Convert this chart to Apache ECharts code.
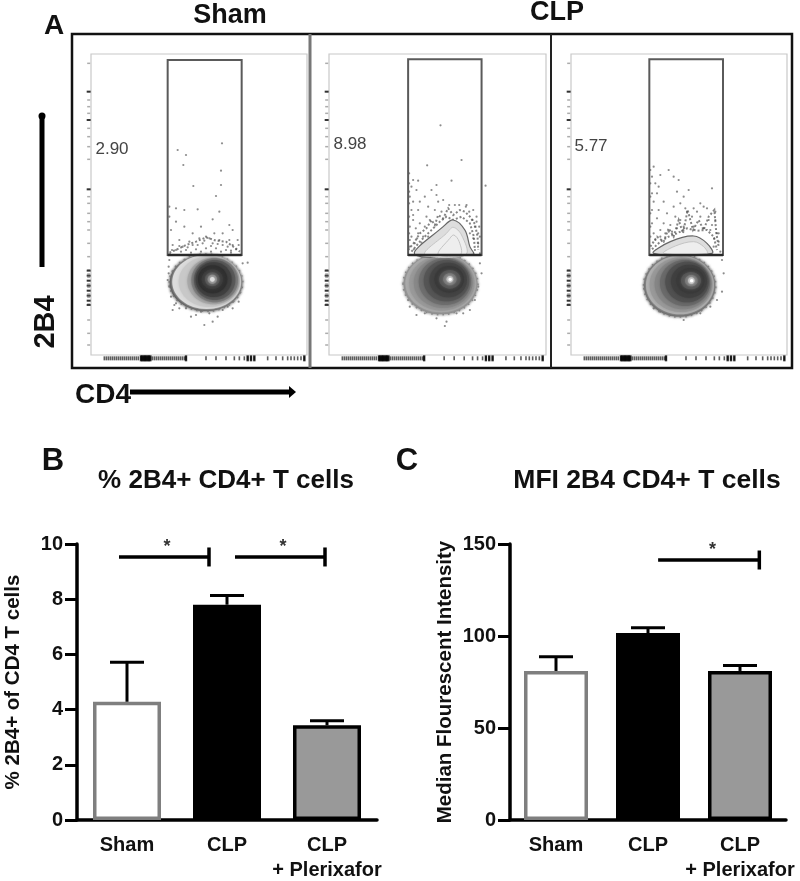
<!DOCTYPE html>
<html><head><meta charset="utf-8">
<style>html,body{margin:0;padding:0;background:#fff}#c{width:800px;height:881px;filter:blur(0.45px)}</style>
<script src="https://cdn.jsdelivr.net/npm/echarts@6/dist/echarts.min.js"></script></head>
<body><div id="c"></div>
<script>
// Bar panels
const categories = ['Sham', 'CLP', 'CLP\n+ Plerixafor'];
const pctValues = [4.28, 7.8, 3.43];
const pctErrTop = [5.72, 8.13, 3.6];
const mfiValues = [81, 101.6, 81];
const mfiErrTop = [88.7, 104.5, 84];
const barFills = ['#ffffff', '#000000', '#999999'];
const barBorders = ['#7f7f7f', '#000000', '#000000'];
// [from, to, level, star] on a 0..3 band scale
const pctBrackets = [[0.42, 1.32, 9.53, 0.9], [1.58, 2.48, 9.53, 2.06]];
const mfiBrackets = [[1.61, 2.71, 141.3, 2.2]];
// Flow panels
const gatePercents = ['2.90', '8.98', '5.77'];
// axis extents of each flow plot in channel units [xmin, xmax, ymin, ymax]
const plotExtents = [[185, 833, 162, 1065], [58, 708, 102, 1005], [782, 1430, 102, 1005]];
const gates = [[415, 180, 637, 765], [295, 118, 515, 705], [1017, 118, 1238, 705]];
// contour levels [cx, cy, rx, ry, grey]
const contoursSham = [[530,848,108,84,'#5a5a5a'],[532,846,103,81,'#dcdcdc'],[540,845,92,76,'#c8c8c8'],[552,843,78,70,'#a8a8a8'],[556,841,70,66,'#7e7e7e'],[556,840,62,60,'#5a5a5a'],[553,839,54,52,'#404040'],[550,838,44,42,'#303030'],[549,838,32,30,'#3c3c3c'],[549,838,22,21,'#555555'],[549,838,14,14,'#888888'],[549,838,7,7,'#dddddd']];
const contoursCLP = [[392,792,110,90,'#8c8c8c'],[393,790,106,87,'#aaaaaa'],[396,790,98,82,'#999999'],[400,788,88,76,'#888888'],[405,785,78,70,'#6e6e6e'],[410,782,68,62,'#555555'],[415,780,56,52,'#444444'],[418,778,44,40,'#3a3a3a'],[420,778,32,28,'#555555'],[420,778,20,18,'#777777'],[420,778,10,10,'#bbbbbb'],[421,778,5,5,'#ffffff']];
const contoursPlx = [[1108,797,106,92,'#6a6a6a'],[1109,795,102,88,'#b0b0b0'],[1112,794,94,82,'#999999'],[1118,792,85,76,'#858585'],[1124,789,75,69,'#6a6a6a'],[1130,786,65,61,'#505050'],[1136,784,54,50,'#404040'],[1140,782,42,38,'#3a3a3a'],[1142,782,30,26,'#555555'],[1143,782,19,17,'#777777'],[1143,782,10,10,'#bbbbbb'],[1144,782,5,5,'#ffffff']];
// fuzzy outlines above the gate line and light shoulders inside it
const rimSham = [[[420,758],[450,745],[470,735],[500,725],[530,712],[560,722],[590,725],[615,742],[632,755]]];
const rimCLP = [[[295,690],[315,665],[330,640],[350,625],[365,600],[375,615],[385,585],[400,595],[415,565],[430,585],[450,570],[465,575],[480,590],[495,612],[503,650],[505,690]],[[305,695],[330,665],[350,645],[370,625],[390,605],[410,590],[430,600],[455,590],[480,610],[492,650],[495,690]]];
const rimPlx = [[[1020,680],[1040,650],[1060,665],[1075,625],[1090,650],[1105,600],[1118,640],[1132,570],[1148,630],[1165,600],[1180,630],[1195,590],[1212,570],[1218,640],[1225,680]],[[1025,688],[1050,665],[1075,650],[1100,640],[1130,625],[1160,632],[1190,630],[1210,650],[1220,690]]];
const shoulderCLP = [[[315,703],[400,620],[430,600],[465,630],[480,680],[490,703]],[[345,703],[410,640],[430,622],[455,645],[468,703]],[[385,703],[420,655],[432,645],[448,665],[452,703]]];
const shoulderPlx = [[[1030,700],[1080,665],[1150,648],[1190,670],[1205,700]],[[1060,700],[1095,678],[1150,665],[1180,680],[1190,700]]];
// single events
const dotsSham = [[445,450],[470,465],[578,430],[462,495],[575,512],[492,558],[575,555],[560,588],[420,620],[440,625],[465,630],[505,628],[570,635],[550,658],[420,650],[440,665],[465,680],[515,680],[600,675],[610,690],[425,690],[490,700],[530,710],[555,700],[580,700],[450,720],[480,725],[510,715],[540,715],[570,720],[600,720],[625,720],[430,735],[460,740],[490,735],[520,730],[550,730],[580,735],[610,735],[440,750],[470,750],[500,748],[530,745],[560,745],[590,750],[620,748],[420,780],[418,820],[420,860],[425,890],[440,910],[430,930],[470,925],[485,950],[500,945],[525,975],[550,965],[540,940],[580,930],[595,920],[610,905],[625,870],[632,830],[640,790],[655,788],[455,900],[515,935],[565,950],[428,750],[450,738],[475,742],[505,735],[525,722],[545,738],[565,732],[595,740],[605,752],[628,735],[422,762],[455,755],[485,758],[515,755],[545,755],[575,755],[605,758],[418,800],[415,840],[435,915],[450,925],[610,925],[635,850],[628,905]];
const dotsCLP = [[392,316],[352,436],[455,420],[527,497],[310,480],[325,482],[305,500],[320,510],[380,495],[425,482],[365,510],[380,525],[345,530],[330,545],[310,545],[300,530],[305,570],[325,570],[355,560],[385,545],[400,540],[375,570],[350,590],[310,600],[330,610],[300,620],[305,650],[325,640],[345,620],[360,600],[470,555],[490,570],[500,590],[495,620],[505,640],[490,655],[505,670],[495,690],[480,640],[300,680],[315,670],[510,730],[515,760],[505,800],[495,840],[480,870],[300,860],[320,885],[345,880],[380,895],[410,905],[405,918],[440,880],[460,880],[295,840],[298,460],[298,490],[298,515],[298,550],[298,590],[298,640],[340,650],[355,650],[318,625],[322,655],[312,688],[335,668],[500,605],[510,650],[488,600],[510,700],[508,620],[478,575],[468,560],[448,555],[435,555],[418,555],[395,575],[310,585],[300,660]];
const dotsPlx = [[1030,440],[1050,465],[1075,450],[1090,470],[1035,490],[1045,500],[1105,480],[1025,470],[1025,520],[1040,520],[1030,545],[1060,545],[1100,515],[1135,510],[1120,530],[1205,505],[1090,560],[1110,550],[1125,565],[1025,570],[1045,570],[1070,580],[1095,590],[1040,595],[1025,610],[1060,610],[1080,615],[1110,600],[1130,575],[1170,550],[1190,565],[1215,575],[1215,600],[1195,600],[1170,590],[1220,640],[1225,665],[1210,680],[1030,640],[1050,630],[1075,635],[1120,620],[1150,620],[1180,625],[1200,630],[1235,720],[1240,760],[1235,815],[1220,840],[1030,865],[1050,875],[1080,885],[1120,900],[1170,880],[1200,860],[1020,450],[1020,490],[1020,530],[1020,580],[1020,620],[1020,650],[1035,660],[1050,650],[1065,640],[1085,635],[1100,625],[1212,655],[1230,695],[1225,640],[1205,615],[1160,575],[1145,590],[1150,565],[1180,560]];
// tick positions on the flow axes, measured from the plot's top and left
const flowYTicks = [28,113,138,158,178,198,223,248,278,316,406,428,448,478,503,528,568,608,648,660,670,680,690,700,710,720,730,740,750,798,838,873];
const flowYHeavy = [113,198,406,650,665,680,695,710,725,740,753];
const flowXTicks = [40,46,52,58,64,70,76,82,88,94,100,106,112,118,124,130,136,142,150,154,158,162,166,170,174,178,184,190,196,202,208,214,220,226,232,238,244,250,256,262,268,274,280,285,345,375,405,430,445,460,470,480,490,530,555,575,590,600,610,620,630,640];
const flowXHeavy = [150,154,158,162,166,170,174,178,285,470,480,490,640];

const F = 'Liberation Sans, Arial, sans-serif';
function ellipseSeries(i, rows, z, extra) {
  return {type:'custom', xAxisIndex:i, yAxisIndex:i, z, silent:true, clip:true, data:rows.map(r=>r.slice(0,4).concat(0)), encode:{x:0,y:1},
    renderItem(p, api){
      const r = rows[p.dataIndex], c = api.coord([r[0], r[1]]), s = api.size([r[2], r[3]]);
      return {type:'ellipse', shape:{cx:c[0], cy:c[1], rx:Math.abs(s[0]), ry:Math.abs(s[1])},
        style:Object.assign({fill:r[4], shadowBlur:3, shadowColor:r[4]}, extra||{})};
    }};
}
function polySeries(i, polys, z, style, closed) {
  return {type:'custom', xAxisIndex:i, yAxisIndex:i, z, silent:true, data:polys.map(pl=>pl[0]), encode:{x:0,y:1},
    renderItem(p, api){
      const pts = polys[p.dataIndex].map(q=>api.coord(q));
      return {type: closed?'polygon':'polyline', shape:{points:pts, smooth:closed?0.35:0}, style:Object.assign({},style)};
    }};
}
function gateSeries(i){
  const g = gates[i];
  return {type:'custom', xAxisIndex:i, yAxisIndex:i, z:8, silent:true, data:[[g[0],g[1]]], encode:{x:0,y:1},
    renderItem(p, api){
      const a = api.coord([g[0],g[1]]), b = api.coord([g[2],g[3]]);
      return {type:'group', children:[
        {type:'rect', shape:{x:a[0],y:a[1],width:b[0]-a[0],height:b[1]-a[1]}, style:{fill:'none',stroke:'#5a5a5a',lineWidth:2}},
        {type:'line', shape:{x1:a[0],y1:b[1],x2:b[0],y2:b[1]}, style:{stroke:'#2a2a2a',lineWidth:2.5}}]};
    }};
}
function flowSeries(i, contours, rims, shoulders, dots){
  const ex = plotExtents[i], out = [];
  out.push({type:'scatter', xAxisIndex:i, yAxisIndex:i, z:3, silent:true, symbolSize:2.2, itemStyle:{color:'#666',opacity:.75}, data:dots});
  out.push(ellipseSeries(i, [contours[0]], 4, {lineDash:[1.5,4], stroke:'#888', lineWidth:3}));
  out.push(ellipseSeries(i, contours, 5));
  out.push(polySeries(i, rims, 4, {fill:'none', stroke:'#444', lineWidth:2, lineDash:[2,2], opacity:.65}, false));
  if (shoulders.length) {
    out.push(polySeries(i, shoulders.slice(0,1), 6, {fill:'#dddddd', stroke:'#666', lineWidth:1.2}, true));
    out.push(polySeries(i, shoulders.slice(1), 6, {fill:'#eeeeee', stroke:'#c4c4c4', lineWidth:1}, true));
  }
  out.push(gateSeries(i));
  out.push({type:'scatter', xAxisIndex:i, yAxisIndex:i, z:2, silent:true, clip:false, symbol:'rect', symbolSize:[3,1.5], itemStyle:{color:'#999'},
    data:flowYTicks.map(t=>[ex[0]-7, ex[2]+t])});
  out.push({type:'scatter', xAxisIndex:i, yAxisIndex:i, z:2, silent:true, clip:false, symbol:'rect', symbolSize:[4,2], itemStyle:{color:'#111'},
    data:flowYHeavy.map(t=>[ex[0]-7, ex[2]+t])});
  out.push({type:'scatter', xAxisIndex:i, yAxisIndex:i, z:2, silent:true, clip:false, symbol:'rect', symbolSize:[1.6,4], itemStyle:{color:'#333'},
    data:flowXTicks.map(t=>[ex[0]+t, ex[3]+10])});
  out.push({type:'scatter', xAxisIndex:i, yAxisIndex:i, z:2, silent:true, clip:false, symbol:'rect', symbolSize:[2.4,6], itemStyle:{color:'#000'},
    data:flowXHeavy.map(t=>[ex[0]+t, ex[3]+10])});
  return out;
}
function barSeries(xi, yi, hx, vals, tops, brackets, bw){
  return [
    {type:'bar', xAxisIndex:xi, yAxisIndex:yi, barWidth:bw, z:3, silent:true,
     data:vals.map((v,i)=>({value:v, itemStyle:{color:barFills[i], borderColor:barBorders[i], borderWidth:3.5}}))},
    {type:'custom', xAxisIndex:xi, yAxisIndex:yi, z:2, silent:true, data:vals.map((v,i)=>[i,v,tops[i]]), encode:{x:0,y:2},
     renderItem(p, api){
       const a = api.coord([api.value(0), api.value(1)]), b = api.coord([api.value(0), api.value(2)]), h = 17, st={stroke:'#000',lineWidth:3};
       return {type:'group', children:[
         {type:'line', shape:{x1:a[0],y1:a[1],x2:b[0],y2:b[1]}, style:st},
         {type:'line', shape:{x1:b[0]-h,y1:b[1],x2:b[0]+h,y2:b[1]}, style:st}]};
     }},
    {type:'custom', xAxisIndex:hx, yAxisIndex:yi, z:5, silent:true, data:brackets, encode:{x:[0,1],y:2},
     renderItem(p, api){
       const a = api.coord([api.value(0), api.value(2)]), b = api.coord([api.value(1), api.value(2)]), s = api.coord([api.value(3), api.value(2)]);
       const st={stroke:'#000',lineWidth:3.5};
       return {type:'group', children:[
         {type:'line', shape:{x1:a[0],y1:a[1],x2:b[0],y2:b[1]}, style:st},
         {type:'line', shape:{x1:b[0],y1:b[1]-9.5,x2:b[0],y2:b[1]+9.5}, style:st},
         {type:'text', x:s[0], y:s[1]-10, style:{text:'*', fill:'#333', font:'bold 18px '+F, textAlign:'center', textVerticalAlign:'middle'}}]};
     }}
  ];
}
function catAxis(g){
  return {type:'category', gridIndex:g, data:categories, boundaryGap:true,
    axisLine:{lineStyle:{color:'#000',width:3.5}}, axisTick:{alignWithLabel:true,length:11,lineStyle:{color:'#000',width:3}},
    axisLabel:{color:'#111',fontFamily:F,fontWeight:'bold',fontSize:20,margin:13,lineHeight:25,interval:0}, splitLine:{show:false}};
}
function valAxis(g,max,interval,name,gap){
  return {type:'value', gridIndex:g, min:0, max, interval, name, nameLocation:'middle', nameGap:gap,
    nameTextStyle:{color:'#111',fontFamily:F,fontWeight:'bold',fontSize:20.5},
    axisLine:{show:true,lineStyle:{color:'#000',width:3.5}}, axisTick:{show:true,length:12,lineStyle:{color:'#000',width:3}},
    axisLabel:{color:'#111',fontFamily:F,fontWeight:'bold',fontSize:20,margin:14}, splitLine:{show:false}};
}
const flowGrids = [[91,216],[329,217],[571,216]].map(g=>({left:g[0],width:g[1],top:54,height:301,show:true,outerBoundsMode:'none',backgroundColor:'#fff',borderColor:'#c8c8c8',borderWidth:1.2}));
const flowX = plotExtents.map((e,i)=>({type:'value',gridIndex:i,min:e[0],max:e[1],show:false,splitLine:{show:false}}));
const flowY = plotExtents.map((e,i)=>({type:'value',gridIndex:i,min:e[2],max:e[3],inverse:true,show:false,splitLine:{show:false}}));
function txt(text,x,y,size,o){
  return Object.assign({type:'text',x,y,z:20,silent:true,style:{text,font:'bold '+size+'px '+F,fill:'#111',textAlign:'center',textVerticalAlign:'middle'}},o||{});
}
const numStyle = t=>({style:{text:t,font:'17px '+F,fill:'#444',textAlign:'center',textVerticalAlign:'middle'}});
const L = (x1,y1,x2,y2,stroke,w)=>({type:'line',z:15,silent:true,shape:{x1,y1,x2,y2},style:{stroke,lineWidth:w}});
const option = {
  animation:false, backgroundColor:'#fff',
  grid: flowGrids.concat([{left:77,width:300,top:544,height:276,outerBoundsMode:'none'},{left:510,width:276,top:544,height:276,outerBoundsMode:'none'}]),
  xAxis: flowX.concat([catAxis(3),catAxis(4),
    {type:'value',gridIndex:3,min:0,max:3,show:false},{type:'value',gridIndex:4,min:0,max:3,show:false}]),
  yAxis: flowY.concat([valAxis(3,10,2,'% 2B4+ of CD4 T cells',53),valAxis(4,150,50,'Median Flourescent Intensity',54)]),
  series: [].concat(
    flowSeries(0,contoursSham,rimSham,[],dotsSham),
    flowSeries(1,contoursCLP,rimCLP,shoulderCLP,dotsCLP),
    flowSeries(2,contoursPlx,rimPlx,shoulderPlx,dotsPlx),
    barSeries(3,3,5,pctValues,pctErrTop,pctBrackets,68),
    barSeries(4,4,6,mfiValues,mfiErrTop,mfiBrackets,64)),
  graphic:{elements:[
    {type:'rect',z:15,silent:true,shape:{x:72,y:34,width:720,height:334},style:{fill:'none',stroke:'#111',lineWidth:2.5}},
    L(310,34,310,368,'#777',3), L(551,34,551,368,'#222',2),
    L(42,118,42,267,'#000',5), {type:'circle',z:15,silent:true,shape:{cx:42,cy:116,r:3.5},style:{fill:'#000'}},
    L(130,392,291,392,'#000',5), {type:'polygon',z:15,silent:true,shape:{points:[[289,386],[296,392],[289,398]]},style:{fill:'#000'}},
    txt('A',54,26,28), txt('Sham',230,16,27), txt('CLP',557,13,27),
    txt('2B4',46,322,29,{rotation:Math.PI/2}), txt('CD4',103,395,28),
    txt(gatePercents[0],112,149,17,numStyle(gatePercents[0])),
    txt(gatePercents[1],350,144,17,numStyle(gatePercents[1])),
    txt(gatePercents[2],591,146,17,numStyle(gatePercents[2])),
    txt('B',53,461,31), txt('C',407,461,31),
    txt('% 2B4+ CD4+ T cells',226,481,26), txt('MFI 2B4 CD4+ T cells',647,481,26.5)
  ]}
};
echarts.init(document.getElementById('c'),null,{renderer:'canvas'}).setOption(option);
</script></body></html>
